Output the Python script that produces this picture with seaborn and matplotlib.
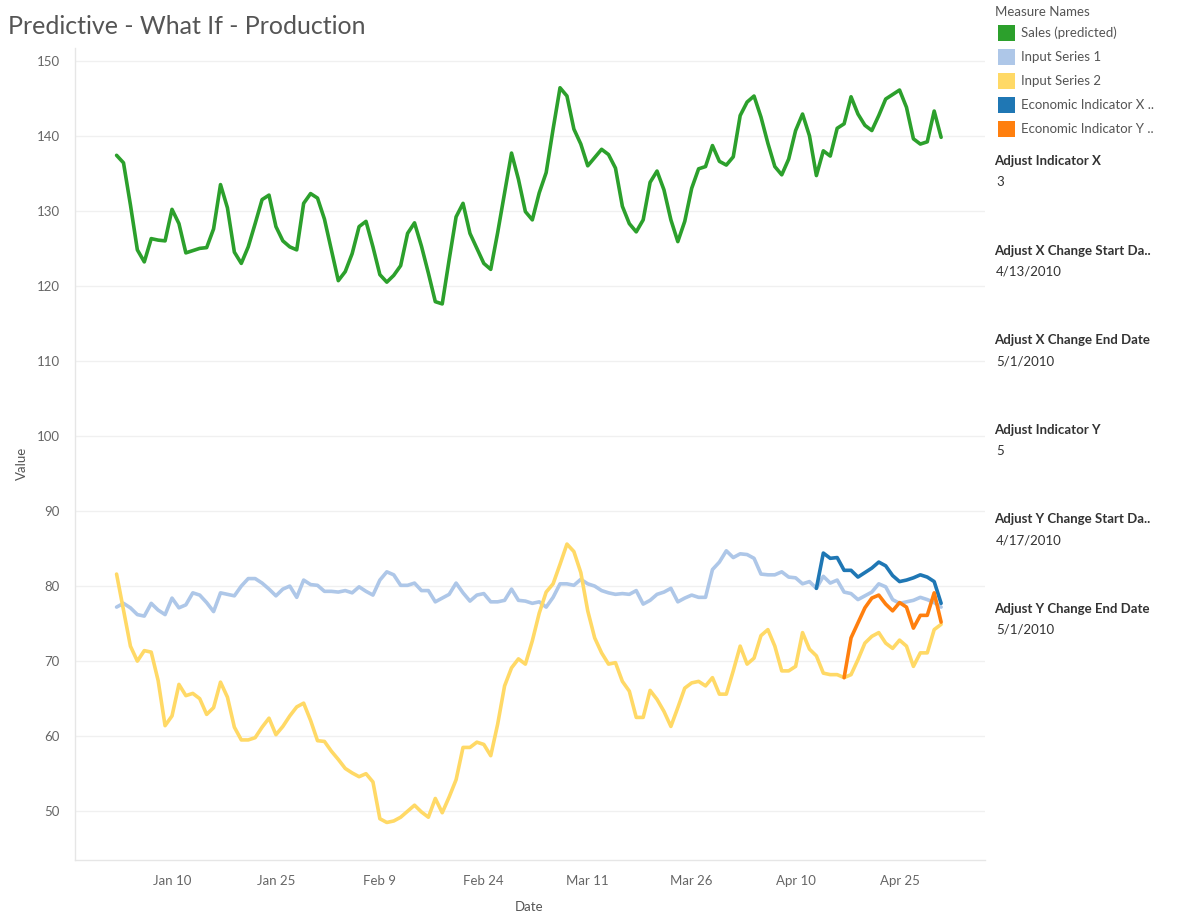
import matplotlib
matplotlib.use("Agg")
import matplotlib.pyplot as plt
from matplotlib.patches import Rectangle
import pandas as pd
import seaborn as sns

# daily values, Jan 2 2010 .. May 1 2010
start_date = "2010-01-02"
end_date = "2010-05-01"

sales = [
    137.4, 136.4, 130.8, 124.8, 123.2, 126.3, 126.1, 126.0, 130.2, 128.3,
    124.4, 124.7, 125.0, 125.1, 127.6, 133.5, 130.4, 124.5, 123.0, 125.2,
    128.3, 131.5, 132.1, 127.9, 126.0, 125.2, 124.8, 131.0, 132.3, 131.7,
    128.9, 124.8, 120.7, 121.9, 124.3, 127.9, 128.6, 125.2, 121.5, 120.5,
    121.4, 122.7, 127.0, 128.4, 125.3, 121.7, 117.9, 117.6, 123.5, 129.2,
    131.0, 127.0, 125.0, 123.0, 122.2, 127.1, 132.4, 137.7, 134.2, 129.9,
    128.8, 132.4, 135.1, 140.9, 146.4, 145.3, 140.9, 138.9, 136.0, 137.1,
    138.2, 137.5, 135.7, 130.6, 128.3, 127.2, 128.8, 133.8, 135.3, 132.8,
    128.8, 125.9, 128.6, 133.0, 135.6, 135.9, 138.7, 136.6, 136.1, 137.2,
    142.7, 144.5, 145.3, 142.5, 139.0, 135.9, 134.8, 136.9, 140.7, 142.9,
    140.0, 134.7, 138.0, 137.3, 141.0, 141.6, 145.2, 142.9, 141.4, 140.7,
    142.7, 144.9, 145.5, 146.1, 143.8, 139.6, 138.9, 139.2, 143.3, 139.8,
]

input_1 = [
    77.2, 77.7, 77.1, 76.2, 76.0, 77.7, 76.8, 76.2, 78.4, 77.1,
    77.5, 79.1, 78.8, 77.8, 76.6, 79.1, 78.9, 78.7, 80.0, 81.0,
    81.0, 80.4, 79.6, 78.7, 79.6, 80.0, 78.5, 80.8, 80.2, 80.1,
    79.3, 79.3, 79.2, 79.4, 79.1, 79.9, 79.3, 78.8, 80.8, 81.9,
    81.5, 80.1, 80.1, 80.4, 79.4, 79.4, 77.9, 78.4, 78.9, 80.4,
    79.1, 78.0, 78.8, 79.0, 77.9, 77.9, 78.1, 79.6, 78.1, 78.0,
    77.7, 77.9, 77.2, 78.5, 80.3, 80.3, 80.1, 80.9, 80.3, 80.0,
    79.4, 79.1, 78.9, 79.0, 78.9, 79.4, 77.6, 78.1, 78.9, 79.2,
    79.7, 77.9, 78.4, 78.8, 78.5, 78.5, 82.2, 83.2, 84.7, 83.8,
    84.3, 84.2, 83.7, 81.6, 81.5, 81.5, 81.9, 81.2, 81.1, 80.3,
    80.6, 79.7, 81.3, 80.4, 80.8, 79.2, 79.0, 78.2, 78.7, 79.2,
    80.3, 79.9, 78.2, 77.7, 77.9, 78.1, 78.5, 78.2, 77.8, 77.2,
]

input_2 = [
    81.6, 76.8, 72.0, 70.0, 71.4, 71.2, 67.4, 61.4, 62.7, 66.9,
    65.4, 65.7, 65.0, 62.9, 63.8, 67.2, 65.2, 61.2, 59.5, 59.5,
    59.8, 61.2, 62.4, 60.2, 61.3, 62.7, 63.9, 64.4, 62.1, 59.4,
    59.3, 58.0, 56.9, 55.7, 55.1, 54.6, 55.0, 53.9, 49.0, 48.5,
    48.7, 49.2, 50.0, 50.8, 49.9, 49.2, 51.7, 49.8, 51.9, 54.2,
    58.5, 58.5, 59.2, 58.9, 57.4, 61.6, 66.7, 69.1, 70.3, 69.6,
    72.7, 76.4, 79.2, 80.3, 82.9, 85.6, 84.6, 81.8, 76.7, 73.1,
    71.1, 69.6, 69.8, 67.3, 66.0, 62.5, 62.5, 66.1, 64.9, 63.3,
    61.3, 63.8, 66.4, 67.1, 67.3, 66.7, 67.8, 65.6, 65.6, 68.7,
    72.0, 69.6, 70.4, 73.4, 74.2, 72.0, 68.7, 68.7, 69.3, 73.8,
    71.6, 70.7, 68.4, 68.2, 68.2, 67.8, 68.2, 70.2, 72.4, 73.3,
    73.8, 72.4, 71.7, 72.8, 72.0, 69.3, 71.1, 71.1, 74.2, 74.9,
]

# adjusted indicators, only inside their date windows
econ_x_start = "2010-04-13"
econ_x = [
    79.7, 84.4, 83.7, 83.8, 82.1, 82.1, 81.2, 81.8, 82.4, 83.2,
    82.7, 81.4, 80.6, 80.8, 81.1, 81.5, 81.2, 80.6, 77.7,
]
econ_y_start = "2010-04-17"
econ_y = [
    67.8, 73.1, 75.1, 77.1, 78.4, 78.8, 77.6, 76.7, 77.8, 77.2,
    74.4, 76.1, 76.1, 79.1, 75.2,
]

measure_names = [
    "Sales (predicted)", "Input Series 1", "Input Series 2",
    "Economic Indicator X ..", "Economic Indicator Y ..",
]
colors = ["#2ca02c", "#aec7e8", "#ffd966", "#1f77b4", "#ff7f0e"]

tick_dates = ["2010-01-10", "2010-01-25", "2010-02-09", "2010-02-24",
              "2010-03-11", "2010-03-26", "2010-04-10", "2010-04-25"]
tick_labels = ["Jan 10", "Jan 25", "Feb 9", "Feb 24",
               "Mar 11", "Mar 26", "Apr 10", "Apr 25"]

params = [
    ("Adjust Indicator X", "3"),
    ("Adjust X Change Start Da..", "4/13/2010"),
    ("Adjust X Change End Date", "5/1/2010"),
    ("Adjust Indicator Y", "5"),
    ("Adjust Y Change Start Da..", "4/17/2010"),
    ("Adjust Y Change End Date", "5/1/2010"),
]

# long table for seaborn
dates = pd.date_range(start_date, end_date, freq="D")
frames = []
for name, vals in zip(measure_names[:3], [sales, input_1, input_2]):
    frames.append(pd.DataFrame({"Date": dates, "Value": vals, "Measure Names": name}))
for name, st, vals in [(measure_names[3], econ_x_start, econ_x),
                       (measure_names[4], econ_y_start, econ_y)]:
    d = pd.date_range(st, periods=len(vals), freq="D")
    frames.append(pd.DataFrame({"Date": d, "Value": vals, "Measure Names": name}))
df = pd.concat(frames, ignore_index=True)

sns.set_theme(style="white")
plt.rcParams["font.family"] = ["Lato", "DejaVu Sans"]

W, H = 1179, 915
fig = plt.figure(figsize=(W / 100, H / 100), dpi=100)
ax = fig.add_axes([75 / W, 1 - 860 / H, (985 - 75) / W, (860 - 48) / H])

sns.lineplot(data=df, x="Date", y="Value", hue="Measure Names",
             hue_order=measure_names, palette=dict(zip(measure_names, colors)),
             linewidth=2.6, legend=False, ax=ax)

ax.set_xlim(pd.Timestamp("2009-12-27"), pd.Timestamp("2010-05-07 08:00"))
ax.set_ylim(43.5, 151.7)
ax.set_yticks(range(50, 151, 10))
ax.set_xticks(pd.to_datetime(tick_dates))
ax.set_xticklabels(tick_labels)

ax.grid(axis="y", color="#f0f0f0", linewidth=1)
ax.grid(axis="x", visible=False)
for s in ["top", "right"]:
    ax.spines[s].set_visible(False)
for s in ["left", "bottom"]:
    ax.spines[s].set_color("#e6e6e6")
    ax.spines[s].set_linewidth(1)
ax.tick_params(axis="x", length=4, color="#e0e0e0", labelcolor="#666666",
               labelsize=9.5, pad=7)
ax.tick_params(axis="y", length=0, labelcolor="#666666", labelsize=9.5, pad=11)
ax.set_xlabel("")
ax.set_ylabel("")

fig.text(529 / W, 1 - 907 / H, "Date", color="#555555", fontsize=9.5,
         ha="center", va="center")
fig.text(22 / W, 1 - 463 / H, "Value", color="#555555", fontsize=9.5,
         ha="center", va="center", rotation=90)

fig.text(8 / W, 1 - 26 / H, "Predictive - What If - Production",
         fontsize=18, color="#555555", va="center", ha="left")

# legend on the right
fig.text(995 / W, 1 - 12 / H, "Measure Names", fontsize=9.5,
         color="#555555", va="center")
for i, (name, c) in enumerate(zip(measure_names, colors)):
    yc = 33 + 24 * i
    fig.add_artist(Rectangle((998 / W, 1 - (yc + 8) / H), 17 / W, 16 / H,
                             transform=fig.transFigure, facecolor=c,
                             edgecolor="none"))
    fig.text(1021 / W, 1 - yc / H, name, fontsize=9.5, color="#555555",
             va="center")

for i, (lab, val) in enumerate(params):
    yt = 161 + 89.6 * i
    fig.text(994 / W, 1 - yt / H, lab, fontsize=9.5, color="#333333",
             fontweight="bold", va="center")
    fig.text(996 / W, 1 - (yt + 21) / H, val, fontsize=9.5, color="#333333",
             va="center")

fig.savefig("out.png", dpi=100)
